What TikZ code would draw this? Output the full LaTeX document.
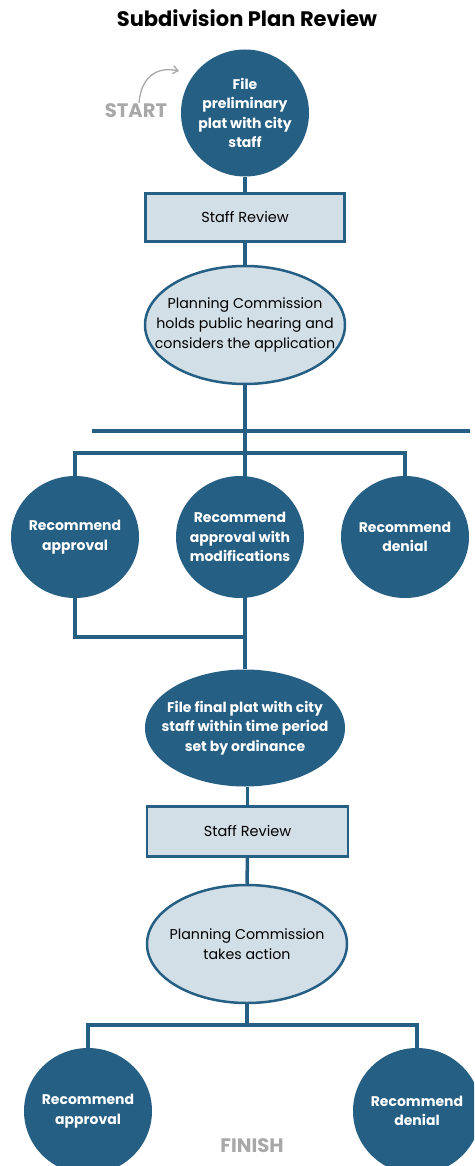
\documentclass[tikz,border=0pt]{standalone}
\usepackage{fontspec}
\setmainfont{Poppins}
\usetikzlibrary{shapes.geometric,arrows.meta,backgrounds}
\definecolor{navy}{HTML}{265F84}
\definecolor{pale}{HTML}{D3DFE7}
\definecolor{mute}{HTML}{A8A8A8}

\begin{document}
\begin{tikzpicture}[x=1pt,y=-1pt,
  darkdisc/.style={ellipse, fill=navy, text=white, align=center, inner sep=-30pt,
    font=\bfseries\fontsize{14}{19.5}\selectfont, minimum width=128pt, minimum height=122pt},
  darkoval/.style={darkdisc, minimum width=200pt, minimum height=117pt},
  paleoval/.style={ellipse, fill=pale, draw=navy, line width=2.5pt, align=center, inner sep=-30pt,
    font=\fontsize{14.2}{20}\selectfont, minimum width=200pt, minimum height=118pt},
  reviewbox/.style={rectangle, fill=pale, draw=navy, line width=2.5pt, inner sep=0pt,
    font=\fontsize{14.5}{16}\selectfont, minimum width=199pt, minimum height=48pt},
  wire/.style={draw=navy, line width=3.5pt},
  endlabel/.style={text=mute, font=\bfseries\fontsize{19.5}{22}\selectfont, inner sep=0pt}
]
\useasboundingbox (0,0) rectangle (474,1166);
\clip (0,0) rectangle (474,1166);

% title
\node[font=\bfseries\fontsize{21}{24}\selectfont, inner sep=0pt] (title) at (247,18) {Subdivision Plan Review};

% preliminary stage
\node[darkdisc, minimum height=127pt] (prelim) at (245,113) {File\\preliminary\\plat with city\\staff};
\node[endlabel] (start) at (136,111) {START};
\coordinate (starttip) at (179,71);
\draw[mute, line width=1.3pt, -{Straight Barb[length=5pt,width=8pt]}]
  ([xshift=3pt,yshift=1pt]start.north) .. controls (141,78) and (156,66) .. (starttip);

\node[reviewbox] (review1) at (245,217.5) {Staff Review};
\node[paleoval] (hearing) at (245,325) {Planning Commission\\holds public hearing and\\considers the application};

% recommendations of the commission
\node[darkdisc] (approve1) at (75,537) {Recommend\\approval};
\node[darkdisc] (modify) at (240,537) {Recommend\\approval with\\modifications};
\node[darkdisc] (deny1) at (405,537) {Recommend\\denial};

% final plat stage
\node[darkoval] (final) at (245,728) {File final plat with city\\staff within time period\\set by ordinance};
\node[reviewbox, minimum width=201pt, minimum height=50pt] (review2) at (247.5,831.5) {Staff Review};
\node[paleoval] (action) at (247,944) {Planning Commission\\takes action};

\node[darkdisc, minimum height=126pt] (approve2) at (88,1111) {Recommend\\approval};
\node[darkdisc, minimum height=126pt] (deny2) at (417,1111) {Recommend\\denial};
\node[endlabel] (finish) at (252,1146) {FINISH};

% junction points
\coordinate (barL) at (92,431);
\coordinate (barR) at (470,431);
\coordinate (fork1) at (245,453);
\coordinate (merge) at (245,637);
\coordinate (fork2) at (247,1025);

\begin{scope}[on background layer]
  \draw[wire] (prelim.south) -- (review1.north);
  \draw[wire] (review1.south) -- (hearing.north);
  \draw[wire] (hearing.south) -- (final.north);
  \draw[wire] (barL) -- (barR);
  \draw[wire] (approve1.north) |- (fork1) -| (deny1.north);
  \draw[wire] (approve1.south) |- (merge);
  \draw[wire] (final.south -| review2.north) -- (review2.north);
  \draw[wire] (review2.south) -- (action.north);
  \draw[wire] (action.south) -- (fork2);
  \draw[wire] (approve2.north) |- (fork2) -| (deny2.north);
\end{scope}
\end{tikzpicture}
\end{document}
